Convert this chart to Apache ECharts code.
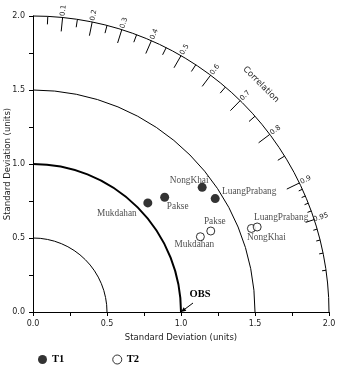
<!DOCTYPE html>
<html>
<head>
<meta charset="utf-8">
<script src="https://cdn.jsdelivr.net/npm/echarts@6/dist/echarts.min.js"></script>
<style>
html, body { margin: 0; padding: 0; background: #fff; }
#taylor { width: 338px; height: 365px; }
</style>
</head>
<body>
<div id="taylor"></div>
<script>
// stations, same order in both runs
var stations = ["Mukdahan", "Pakse", "NongKhai", "LuangPrabang"];
// T1: standard deviation (units) and correlation
var t1Std = [1.07, 1.18, 1.42, 1.45];
var t1Corr = [0.725, 0.754, 0.805, 0.849];
// T2
var t2Std = [1.24, 1.32, 1.58, 1.62];
var t2Corr = [0.912, 0.910, 0.934, 0.935];
// reference point
var obsStd = 1.0;
// standard deviation arcs round the origin
var stdArcs = [0.5, 1.0, 1.5, 2.0];
// correlation scale
var corrMajor = [0.1, 0.2, 0.3, 0.4, 0.5, 0.6, 0.7, 0.8, 0.9, 0.95];
var corrMinor = [0.05, 0.15, 0.25, 0.35, 0.45, 0.55, 0.65, 0.75, 0.85];
var corrFine = [0.91, 0.92, 0.93, 0.94, 0.96, 0.97, 0.98, 0.99];

// label offsets (px) next to each marker
var t1LabelOffset = [[-31, 11], [13, 9], [-13, -7], [34, -7]];
var t2LabelOffset = [[-6, 8], [4, -9], [15, 9], [24, -9]];

var maxStd = 2.0;
var serif = "Liberation Serif";
var sans = "DejaVu Sans";

function toXY(s, c) {
  return [s * c, s * Math.sqrt(1 - c * c)];
}

function pointData(std, corr, offs) {
  return stations.map(function (name, i) {
    return {
      name: name,
      value: toXY(std[i], corr[i]),
      label: { offset: offs[i] },
    };
  });
}

// tick list for the correlation arc: [corr, length px]
var corrTicks = [];
corrMajor.forEach(function (c) { corrTicks.push([c, c === 0.95 ? 9 : 14]); });
corrMinor.forEach(function (c) { corrTicks.push([c, 8]); });
corrFine.forEach(function (c) { corrTicks.push([c, 4]); });

function outerRadiusPx(api) {
  var o = api.coord([0, 0]);
  return api.coord([maxStd, 0])[0] - o[0];
}

var option = {
  animation: false,
  grid: { left: 33, top: 16, width: 296, height: 296, outerBoundsMode: "none", containLabel: false },
  legend: {
    data: ["T1", "T2"],
    left: 38,
    top: 354,
    padding: 0,
    icon: "circle",
    itemWidth: 9,
    itemHeight: 9,
    itemGap: 48,
    itemStyle: { borderWidth: 1 },
    textStyle: { fontFamily: serif, fontWeight: "bold", fontSize: 10.5, color: "#000" },
  },
  xAxis: {
    type: "value",
    min: 0,
    max: 2,
    interval: 0.5,
    axisLine: { lineStyle: { color: "#000", width: 1 } },
    axisTick: { show: true, length: 4, lineStyle: { color: "#000" } },
    minorTick: { show: true, splitNumber: 2, length: 4, lineStyle: { color: "#000" } },
    splitLine: { show: false },
    axisLabel: {
      formatter: function (v) { return v.toFixed(1); },
      fontFamily: sans, fontSize: 8, color: "#222", margin: 8,
      showMinLabel: true, showMaxLabel: true,
    },
    name: "Standard Deviation (units)",
    nameLocation: "middle",
    nameGap: 20,
    nameTextStyle: { fontFamily: sans, fontSize: 8.5, color: "#222" },
  },
  yAxis: {
    type: "value",
    min: 0,
    max: 2,
    interval: 0.5,
    axisLine: { lineStyle: { color: "#000", width: 1 } },
    axisTick: { show: true, length: 4, lineStyle: { color: "#000" } },
    minorTick: { show: true, splitNumber: 2, length: 4, lineStyle: { color: "#000" } },
    splitLine: { show: false },
    axisLabel: {
      formatter: function (v) { return v.toFixed(1); },
      fontFamily: sans, fontSize: 8, color: "#222", margin: 8,
      showMinLabel: true, showMaxLabel: true,
    },
    name: "Standard Deviation (units)",
    nameLocation: "middle",
    nameGap: 21,
    nameMoveOverlap: false,
    nameTextStyle: { fontFamily: sans, fontSize: 8.5, color: "#222" },
  },
  series: [
    {
      // std arcs
      type: "custom",
      coordinateSystem: "cartesian2d",
      silent: true,
      clip: false,
      z: 1,
      data: stdArcs.map(function (r) { return [r, 0]; }),
      renderItem: function (params, api) {
        var o = api.coord([0, 0]);
        var r = api.coord([api.value(0), 0])[0] - o[0];
        return {
          type: "arc",
          shape: { cx: o[0], cy: o[1], r: r, startAngle: -Math.PI / 2, endAngle: 0, clockwise: true },
          style: { stroke: "#000", fill: null, lineWidth: api.value(0) === obsStd ? 2 : 1 },
        };
      },
    },
    {
      // correlation ticks
      type: "custom",
      coordinateSystem: "cartesian2d",
      silent: true,
      clip: false,
      z: 1,
      data: corrTicks,
      renderItem: function (params, api) {
        var c = api.value(0), len = api.value(1);
        var s = Math.sqrt(1 - c * c);
        var p = api.coord([maxStd * c, maxStd * s]);
        return {
          type: "line",
          shape: { x1: p[0], y1: p[1], x2: p[0] - len * c, y2: p[1] + len * s },
          style: { stroke: "#000", lineWidth: 1 },
        };
      },
    },
    {
      // correlation labels
      type: "custom",
      coordinateSystem: "cartesian2d",
      silent: true,
      clip: false,
      z: 1,
      data: corrMajor.map(function (c) { return [c, 0]; }),
      renderItem: function (params, api) {
        var c = api.value(0);
        var th = Math.acos(c);
        var o = api.coord([0, 0]);
        var r = outerRadiusPx(api) + 7;
        return {
          type: "text",
          x: o[0] + r * Math.cos(th),
          y: o[1] - r * Math.sin(th),
          rotation: th,
          style: {
            text: String(c), align: "center", verticalAlign: "middle",
            fontFamily: sans, fontSize: 7, fill: "#222",
          },
        };
      },
    },
    {
      // "Correlation" title along the arc
      type: "custom",
      coordinateSystem: "cartesian2d",
      silent: true,
      clip: false,
      z: 1,
      data: [[0.708, 0]],
      renderItem: function (params, api) {
        var th = Math.acos(api.value(0));
        var o = api.coord([0, 0]);
        var r = outerRadiusPx(api) + 26;
        return {
          type: "text",
          x: o[0] + r * Math.cos(th),
          y: o[1] - r * Math.sin(th),
          rotation: th - Math.PI / 2,
          style: {
            text: "Correlation", align: "center", verticalAlign: "middle",
            fontFamily: sans, fontSize: 8.5, fill: "#222",
          },
        };
      },
    },
    {
      // OBS arrow and label
      type: "custom",
      coordinateSystem: "cartesian2d",
      silent: true,
      clip: false,
      z: 3,
      data: [[obsStd, 0]],
      renderItem: function (params, api) {
        var p = api.coord([api.value(0), api.value(1)]);
        var sx = p[0] + 12, sy = p[1] - 9;
        var dx = p[0] - sx, dy = p[1] - sy;
        var L = Math.sqrt(dx * dx + dy * dy);
        var ux = dx / L, uy = dy / L;
        var bx = p[0] - 5 * ux, by = p[1] - 5 * uy;
        return {
          type: "group",
          children: [
            { type: "line", shape: { x1: sx, y1: sy, x2: bx, y2: by }, style: { stroke: "#000", lineWidth: 1 } },
            {
              type: "polygon",
              shape: { points: [[p[0], p[1]], [bx - 2.2 * uy, by + 2.2 * ux], [bx + 2.2 * uy, by - 2.2 * ux]] },
              style: { fill: "#000" },
            },
            {
              type: "text", x: p[0] + 19, y: p[1] - 18,
              style: {
                text: "OBS", align: "center", verticalAlign: "middle",
                fontFamily: serif, fontWeight: "bold", fontSize: 10.5, fill: "#000",
              },
            },
          ],
        };
      },
    },
    {
      name: "T1",
      type: "scatter",
      z: 5,
      symbol: "circle",
      symbolSize: 9,
      itemStyle: { color: "#000" },
      emphasis: { disabled: true },
      label: {
        show: true, position: "inside", formatter: "{b}",
        fontFamily: serif, fontSize: 9.3, color: "#222",
        align: "center", verticalAlign: "middle",
      },
      data: pointData(t1Std, t1Corr, t1LabelOffset),
    },
    {
      name: "T2",
      type: "scatter",
      z: 5,
      symbol: "circle",
      symbolSize: 8,
      itemStyle: { color: "#fff", borderColor: "#000", borderWidth: 1 },
      emphasis: { disabled: true },
      label: {
        show: true, position: "inside", formatter: "{b}",
        fontFamily: serif, fontSize: 9.3, color: "#222",
        align: "center", verticalAlign: "middle",
      },
      data: pointData(t2Std, t2Corr, t2LabelOffset),
    },
  ],
};

var chart = echarts.init(document.getElementById("taylor"));
chart.setOption(option);
window.onresize = chart.resize;
</script>
</body>
</html>
